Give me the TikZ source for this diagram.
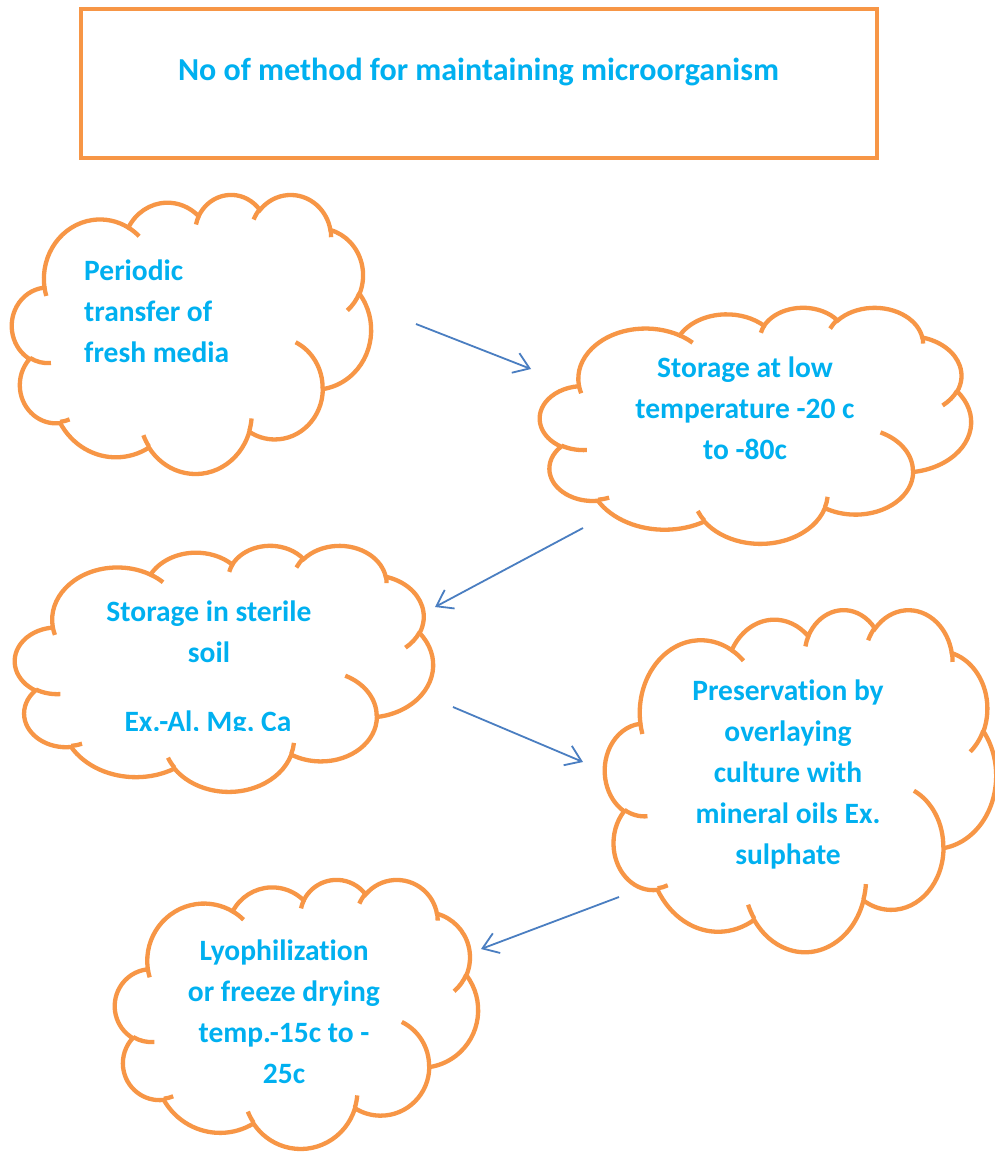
\documentclass[tikz,border=0pt]{standalone}
\usepackage{fontspec}
\setmainfont{Carlito}[Ligatures=NoCommon]
\usetikzlibrary{arrows.meta}
\definecolor{cloudorange}{RGB}{247,150,70}
\definecolor{txtblue}{RGB}{0,176,240}
\definecolor{arrowblue}{RGB}{74,126,193}
\tikzset{
  cloudline/.style={draw=cloudorange, line width=4.3pt},
  lbl/.style={inner sep=0pt, anchor=base, text=txtblue, font=\fontsize{29.5}{41}\selectfont\bfseries},
  flow/.style={draw=arrowblue, line width=1.8pt, -{Straight Barb[length=15pt,width=21pt]}}
}
% convert DrawingML visual angles to parametric ellipse angles
\newcommand\conv[5]{%
  \pgfmathsetmacro\tmpS{atan2((#2)*sin(#4),(#3)*cos(#4))}%
  \pgfmathsetmacro\tmpE{atan2((#2)*sin(#4+#5),(#3)*cos(#4+#5))}%
  \pgfmathsetmacro\tmpD{mod(\tmpE-\tmpS+720,360)}%
  \expandafter\xdef\csname cs#1\endcsname{\tmpS}%
  \expandafter\xdef\csname cd#1\endcsname{\tmpD}}
\conv{A}{15.632}{21.273}{-190.487}{123.781}
\conv{B}{12.345}{16.822}{-144.102}{89.945}
\conv{C}{10.104}{13.762}{-145.808}{99.723}
\conv{D}{11.243}{15.266}{-130.986}{117.242}
\conv{E}{12.345}{16.836}{-78.709}{109.027}
\conv{F}{15.683}{21.343}{-46.267}{130.269}
\conv{G}{13.391}{18.211}{0.625}{114.033}
\conv{H}{15.630}{21.331}{22.452}{115.173}
\conv{I}{17.870}{24.405}{66.243}{75.711}
\conv{J}{10.093}{13.699}{-274.942}{146.736}
\conv{K}{10.058}{13.762}{-246.829}{152.519}
\conv{a}{10.058}{13.762}{86.742}{26.430}
\conv{b}{10.093}{13.699}{73.610}{11.447}
\conv{c}{15.630}{21.331}{137.624}{14.081}
\conv{d}{15.630}{21.331}{6.453}{15.998}
\conv{e}{13.391}{18.211}{-70.292}{70.917}
\conv{f}{12.345}{16.836}{30.318}{27.752}
\conv{g}{11.243}{15.266}{-13.744}{14.859}
\conv{h}{11.243}{15.266}{-149.181}{18.195}
\conv{i}{10.104}{13.762}{-163.494}{17.686}
\conv{j}{15.632}{21.273}{-66.707}{12.319}
\conv{k}{15.632}{21.273}{157.654}{11.858}
\newcommand\mylines[2]{\begin{tabular}[t]{@{}#1@{}}#2\end{tabular}}
\newcommand\drawcloud[4]{%
  \begin{scope}[shift={(#1,#2)},x=#3pt,y=-#4pt]
    \filldraw[cloudline, fill=white] (9.028,33.264)
      arc[x radius=15.632,y radius=21.273,start angle=\csA,delta angle=\cdA]
      arc[x radius=12.345,y radius=16.822,start angle=\csB,delta angle=\cdB]
      arc[x radius=10.104,y radius=13.762,start angle=\csC,delta angle=\cdC]
      arc[x radius=11.243,y radius=15.266,start angle=\csD,delta angle=\cdD]
      arc[x radius=12.345,y radius=16.836,start angle=\csE,delta angle=\cdE]
      arc[x radius=15.683,y radius=21.343,start angle=\csF,delta angle=\cdF]
      arc[x radius=13.391,y radius=18.211,start angle=\csG,delta angle=\cdG]
      arc[x radius=15.630,y radius=21.331,start angle=\csH,delta angle=\cdH]
      arc[x radius=17.870,y radius=24.405,start angle=\csI,delta angle=\cdI]
      arc[x radius=10.093,y radius=13.699,start angle=\csJ,delta angle=\cdJ]
      arc[x radius=10.058,y radius=13.762,start angle=\csK,delta angle=\cdK]
      -- cycle;
    \draw[cloudline]
      (10.863,60.595) arc[x radius=10.058,y radius=13.762,start angle=\csa,delta angle=\cda]
      (16.037,80.785) arc[x radius=10.093,y radius=13.699,start angle=\csb,delta angle=\cdb]
      (38.144,90.486) arc[x radius=15.630,y radius=21.331,start angle=\csc,delta angle=\cdc]
      (66.729,80.442) arc[x radius=15.630,y radius=21.331,start angle=\csd,delta angle=\cdd]
      (79.002,53.134) arc[x radius=13.391,y radius=18.211,start angle=\cse,delta angle=\cde]
      (96.755,35.542) arc[x radius=12.345,y radius=16.836,start angle=\csf,delta angle=\cdf]
      (88.713,12.560) arc[x radius=11.243,y radius=15.266,start angle=\csg,delta angle=\cdg]
      (67.310,9.148) arc[x radius=11.243,y radius=15.266,start angle=\csh,delta angle=\cdh]
      (51.252,10.926) arc[x radius=10.104,y radius=13.762,start angle=\csi,delta angle=\cdi]
      (32.407,12.019) arc[x radius=15.632,y radius=21.273,start angle=\csj,delta angle=\cdj]
      (9.553,36.549) arc[x radius=15.632,y radius=21.273,start angle=\csk,delta angle=\cdk];
  \end{scope}}
\begin{document}
\begin{tikzpicture}[x=1pt,y=-1pt]
  \fill[white] (0,0) rectangle (994,1152);
  \useasboundingbox (0,0) rectangle (994,1152);
  % title
  \draw[draw=cloudorange, line width=4.5pt, fill=white] (81,9) rectangle (877,158);
  \node[lbl, font=\fontsize{32}{38}\selectfont\bfseries] (title) at (478.5,80) {No of method for maintaining microorganism};
  % clouds
  \drawcloud{12}{194}{3.59}{2.79}
  \drawcloud{540}{307}{4.31}{2.36}
  \drawcloud{15}{545}{4.18}{2.46}
  \drawcloud{605}{609}{3.91}{3.42}
  \drawcloud{115}{879}{3.63}{2.69}
  % texts
  \node[lbl, anchor=base west] (t1) at (84,280) {\mylines{l}{Periodic\\transfer of\\fresh media}};
  \node[lbl] (t2) at (745,377) {\mylines{c}{Storage at low\\temperature -20 c\\to -80c}};
  \node[lbl] (t3) at (209,621) {\mylines{c}{Storage in sterile\\soil}};
  \begin{scope}
    \clip (0,690) rectangle (994,730);
    \node[lbl] (t3b) at (208,731) {Ex.-Al, Mg, Ca};
  \end{scope}
  \node[lbl] (t4) at (788,700) {\mylines{c}{Preservation by\\overlaying\\culture with\\mineral oils Ex.\\sulphate}};
  \node[lbl] (t5) at (284,960) {\mylines{c}{Lyophilization\\or freeze drying\\temp.-15c to -\\25c}};
  % arrows
  \coordinate (a1s) at (416,324);
  \coordinate (a1e) at (531,369);
  \coordinate (a2s) at (583,528);
  \coordinate (a2e) at (435,607);
  \coordinate (a3s) at (453,707);
  \coordinate (a3e) at (583,762);
  \coordinate (a4s) at (619,897);
  \coordinate (a4e) at (481,949);
  \draw[flow] (a1s) -- (a1e);
  \draw[flow] (a2s) -- (a2e);
  \draw[flow] (a3s) -- (a3e);
  \draw[flow] (a4s) -- (a4e);
\end{tikzpicture}
\end{document}
